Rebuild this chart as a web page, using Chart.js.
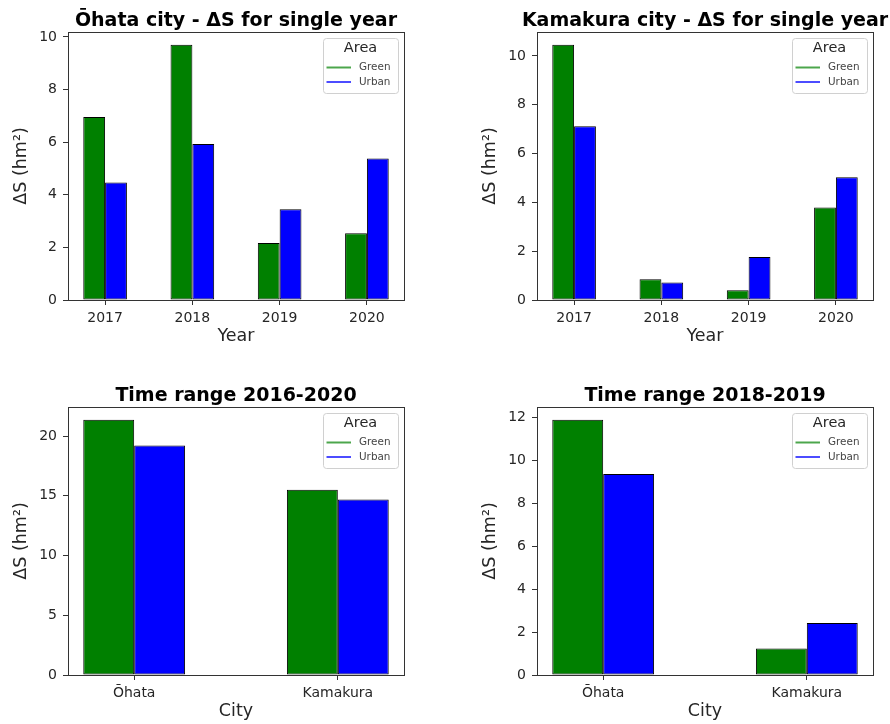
<!DOCTYPE html>
<html lang="en">
<head>
<meta charset="UTF-8">
<title>ΔS by city and area</title>
<script src="https://cdn.jsdelivr.net/npm/chart.js@4"></script>
<style>
  body { margin: 0; background: #fff; }
  #wrap { position: relative; width: 890px; height: 724px; }
  canvas { position: absolute; }
</style>
</head>
<body>
<div id="wrap">
  <canvas id="ohata" width="445" height="362" style="left:0;top:0"></canvas>
  <canvas id="kamakura" width="445" height="362" style="left:445px;top:0"></canvas>
  <canvas id="range1620" width="445" height="362" style="left:0;top:362px"></canvas>
  <canvas id="range1819" width="445" height="362" style="left:445px;top:362px"></canvas>
</div>
<script>
// categories
const years = ['2017', '2018', '2019', '2020'];
const cities = ['Ōhata', 'Kamakura'];

// ΔS (hm²) per single year
const ohataGreen = [6.95, 9.70, 2.17, 2.54];
const ohataUrban = [4.47, 5.93, 3.45, 5.38];
const kamakuraGreen = [10.46, 0.85, 0.40, 3.79];
const kamakuraUrban = [7.12, 0.72, 1.76, 5.03];

// ΔS (hm²) over a time range, per city
const range1620Green = [21.37, 15.51];
const range1620Urban = [19.22, 14.70];
const range1819Green = [11.89, 1.24];
const range1819Urban = [9.36, 2.42];

// y tick labels
const yTicksSingle = [0, 2, 4, 6, 8, 10];
const yTicks1620 = [0, 5, 10, 15, 20];
const yTicks1819 = [0, 2, 4, 6, 8, 10, 12];

const FONT = '"DejaVu Sans", sans-serif';
const TEXT = '#262626';
const SPINE = '#333333';
const Y_AXIS_W = 58;
const X_AXIS_H = 48;

// frame, title and "Area" legend drawn around the plot area
const panelDecor = {
  id: 'panelDecor',
  afterDatasetsDraw(chart, args, opts) {
    const { ctx, chartArea: a } = chart;
    ctx.save();

    ctx.strokeStyle = SPINE;
    ctx.lineWidth = 1;
    ctx.strokeRect(Math.round(a.left) + 0.5, Math.round(a.top) + 0.5,
      Math.round(a.right - a.left), Math.round(a.bottom - a.top));

    ctx.fillStyle = '#000';
    ctx.font = 'bold 19px ' + FONT;
    ctx.textAlign = 'center';
    ctx.textBaseline = 'alphabetic';
    ctx.fillText(opts.title, (a.left + a.right) / 2, a.top - 6);

    // legend box
    const w = 75, h = 55;
    const bx = a.right - 6 - w, by = a.top + 6;
    ctx.beginPath();
    ctx.roundRect(bx + 0.5, by + 0.5, w, h, 3);
    ctx.fillStyle = 'rgba(255,255,255,0.8)';
    ctx.fill();
    ctx.strokeStyle = '#d0d0d0';
    ctx.stroke();

    ctx.fillStyle = TEXT;
    ctx.font = '14.5px ' + FONT;
    ctx.textBaseline = 'middle';
    ctx.fillText('Area', bx + w / 2, by + 10.5);

    ctx.font = '10.4px ' + FONT;
    ctx.textAlign = 'left';
    chart.data.datasets.forEach((ds, i) => {
      const y = by + 29.5 + i * 14.5;
      ctx.globalAlpha = 0.7;
      ctx.strokeStyle = ds.backgroundColor;
      ctx.lineWidth = 2;
      ctx.beginPath();
      ctx.moveTo(bx + 3.5, y);
      ctx.lineTo(bx + 28, y);
      ctx.stroke();
      ctx.globalAlpha = 1;
      ctx.fillStyle = '#444';
      ctx.fillText(ds.label, bx + 36, y);
    });
    ctx.restore();
  }
};

function makePanel(id, title, labels, green, urban, yTicks, xTitle, area) {
  const canvas = document.getElementById(id);
  const n = labels.length;
  // bars span i ± 0.25, plus a 5% margin on each side
  const margin = 0.05 * (n - 0.5);
  const yMax = 1.05 * Math.max(...green, ...urban);
  const toPoints = vals => vals.map((v, i) => ({ x: i, y: v }));
  const barStyle = { borderColor: '#000', borderWidth: 1, borderSkipped: false, inflateAmount: 0 };

  new Chart(canvas, {
    type: 'bar',
    data: {
      datasets: [
        { label: 'Green', data: toPoints(green), backgroundColor: '#008000', ...barStyle },
        { label: 'Urban', data: toPoints(urban), backgroundColor: '#0000ff', ...barStyle }
      ]
    },
    options: {
      responsive: false,
      animation: false,
      events: [],
      categoryPercentage: 0.5,
      barPercentage: 1.0,
      layout: {
        padding: {
          left: area.left - Y_AXIS_W,
          top: area.top,
          right: canvas.width - area.right,
          bottom: canvas.height - area.bottom - X_AXIS_H
        }
      },
      plugins: {
        legend: { display: false },
        title: { display: false },
        tooltip: { enabled: false },
        panelDecor: { title }
      },
      scales: {
        x: {
          type: 'linear',
          offset: false,
          min: -0.25 - margin,
          max: n - 0.75 + margin,
          afterBuildTicks: s => { s.ticks = labels.map((_, i) => ({ value: i })); },
          afterFit: s => { s.height = X_AXIS_H; },
          grid: { display: true, offset: false, drawOnChartArea: false, tickLength: 5, tickColor: SPINE },
          border: { display: false },
          ticks: {
            padding: 5,
            color: TEXT,
            font: { family: FONT, size: 14 },
            callback: v => labels[v]
          },
          title: {
            display: true, text: xTitle, color: TEXT,
            font: { family: FONT, size: 17.5 },
            padding: { top: 0, bottom: 1 }
          }
        },
        y: {
          min: 0,
          max: yMax,
          afterBuildTicks: s => { s.ticks = yTicks.map(v => ({ value: v })); },
          afterFit: s => { s.width = Y_AXIS_W; },
          grid: { display: true, drawOnChartArea: false, tickLength: 5, tickColor: SPINE },
          border: { display: false },
          ticks: {
            padding: 6,
            color: TEXT,
            font: { family: FONT, size: 14 },
            callback: v => String(v)
          },
          title: {
            display: true, text: 'ΔS (hm²)', color: TEXT,
            font: { family: FONT, size: 17.5 },
            padding: { top: 1, bottom: 0 }
          }
        }
      }
    },
    plugins: [panelDecor]
  });
}

makePanel('ohata', 'Ōhata city - ΔS for single year', years, ohataGreen, ohataUrban,
  yTicksSingle, 'Year', { left: 68, top: 32, right: 404, bottom: 300 });
makePanel('kamakura', 'Kamakura city - ΔS for single year', years, kamakuraGreen, kamakuraUrban,
  yTicksSingle, 'Year', { left: 92, top: 32, right: 428, bottom: 300 });
makePanel('range1620', 'Time range 2016-2020', cities, range1620Green, range1620Urban,
  yTicks1620, 'City', { left: 68, top: 45, right: 404, bottom: 313 });
makePanel('range1819', 'Time range 2018-2019', cities, range1819Green, range1819Urban,
  yTicks1819, 'City', { left: 92, top: 45, right: 428, bottom: 313 });
</script>
</body>
</html>
